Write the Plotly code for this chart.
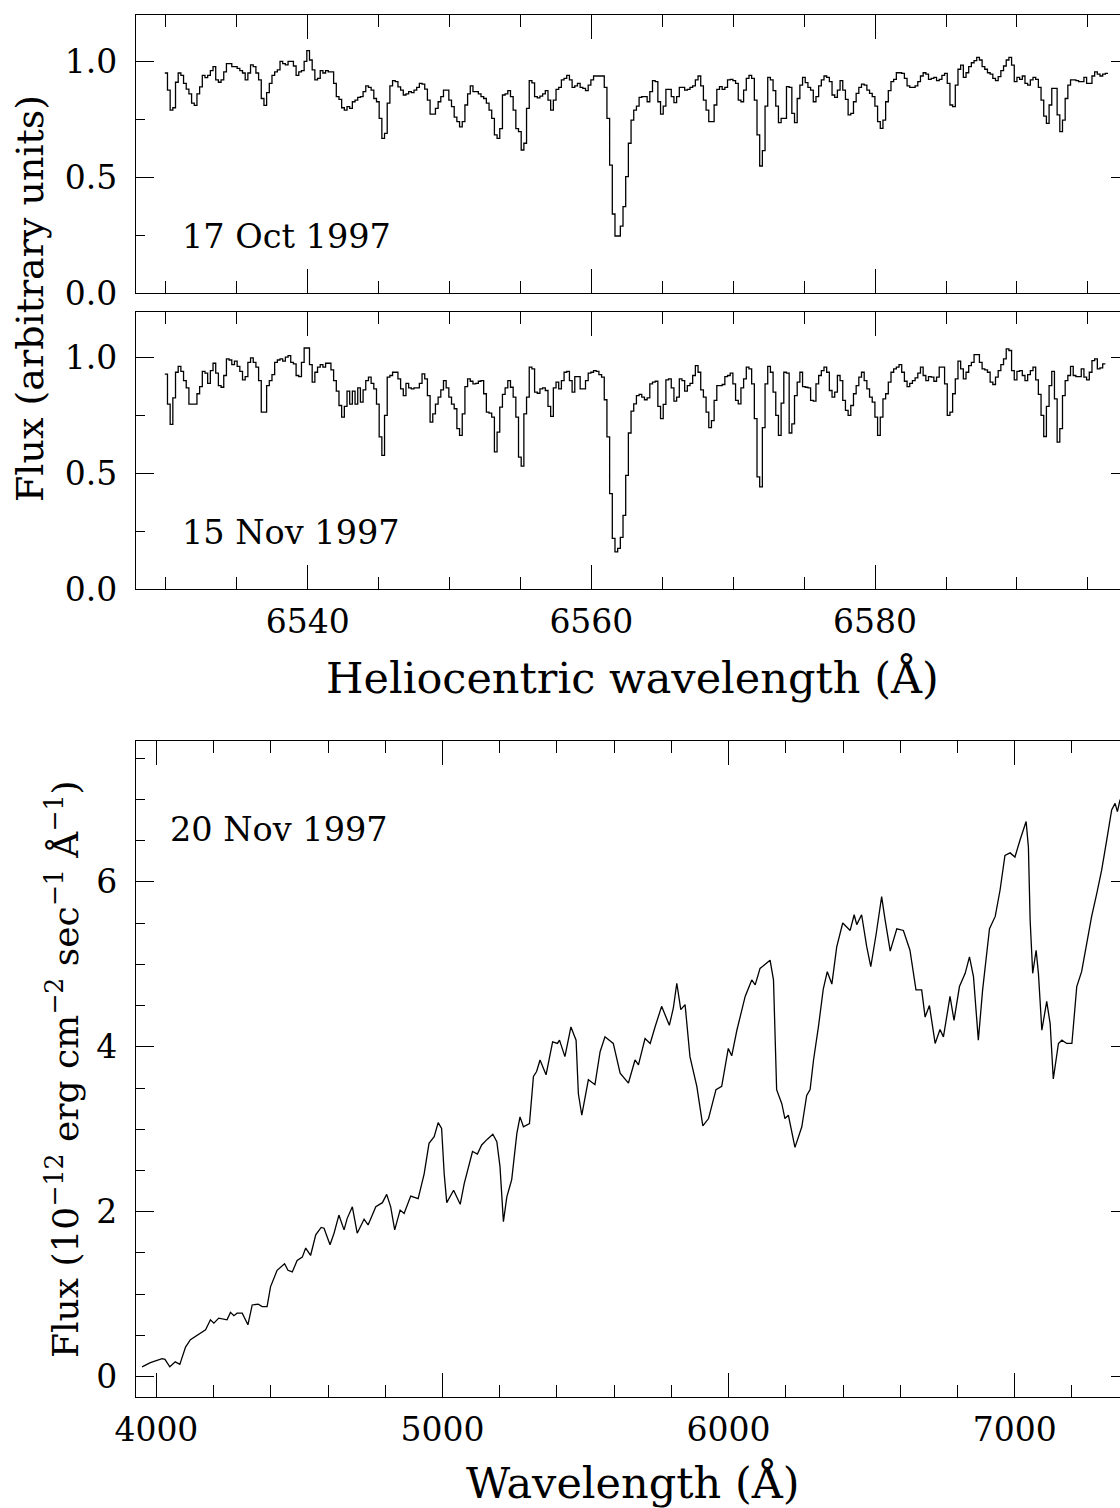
import plotly.graph_objects as go

# ---------------- data ----------------
# H-alpha region spectra (continuum-normalised flux per pixel bin)
HALPHA_START = 6529.93      # Angstrom, left edge of first bin
HALPHA_STEP = 0.1889        # Angstrom per bin

flux_17oct = [
    0.95, 0.876, 0.79, 0.80, 0.91, 0.95, 0.94, 0.905, 0.88, 0.86,
    0.82, 0.81, 0.86, 0.89, 0.94, 0.93, 0.94, 0.96, 0.977, 0.92,
    0.91, 0.92, 0.955, 0.99, 0.99, 0.977, 0.977, 0.97, 0.96, 0.95,
    0.92, 0.95, 0.985, 0.977, 0.95, 0.92, 0.84, 0.81, 0.865, 0.905,
    0.94, 0.955, 0.963, 1.0, 0.99, 0.985, 1.0, 1.0, 0.98, 0.94,
    0.955, 0.96, 1.0, 1.046, 1.006, 0.963, 0.92, 0.927, 0.96, 0.95,
    0.96, 0.955, 0.955, 0.905, 0.848, 0.836, 0.80, 0.79, 0.805, 0.797,
    0.826, 0.833, 0.845, 0.848, 0.87, 0.894, 0.888, 0.876, 0.84, 0.826,
    0.754, 0.668, 0.69, 0.82, 0.894, 0.917, 0.913, 0.89, 0.876, 0.855,
    0.86, 0.87, 0.865, 0.876, 0.888, 0.905, 0.902, 0.88, 0.833, 0.773,
    0.773, 0.797, 0.826, 0.848, 0.876, 0.876, 0.833, 0.805, 0.76, 0.74,
    0.718, 0.74, 0.812, 0.86, 0.894, 0.87, 0.87, 0.86, 0.848, 0.84,
    0.82, 0.79, 0.754, 0.683, 0.668, 0.71, 0.855, 0.86, 0.874, 0.848,
    0.79, 0.71, 0.697, 0.618, 0.647, 0.797, 0.917, 0.907, 0.848, 0.843,
    0.85, 0.86, 0.874, 0.833, 0.79, 0.833, 0.879, 0.888, 0.92,
    0.927, 0.94, 0.92, 0.888, 0.894, 0.905, 0.888, 0.884, 0.874, 0.898,
    0.92, 0.937, 0.937, 0.937, 0.937, 0.888, 0.754, 0.553, 0.342, 0.247,
    0.247, 0.29, 0.374, 0.503, 0.647, 0.747, 0.79, 0.807, 0.845, 0.848,
    0.848, 0.826, 0.87, 0.917, 0.913, 0.826, 0.773, 0.807, 0.879, 0.879,
    0.848, 0.822, 0.848, 0.888, 0.888, 0.876, 0.879, 0.888, 0.894, 0.92,
    0.937, 0.894, 0.833, 0.79, 0.74, 0.74, 0.812, 0.879, 0.891, 0.879,
    0.888, 0.92, 0.922, 0.917, 0.905, 0.833, 0.826, 0.876, 0.927, 0.94,
    0.927, 0.833, 0.683, 0.549, 0.615, 0.807, 0.931, 0.92, 0.874, 0.807,
    0.736, 0.754, 0.754, 0.891, 0.888, 0.776, 0.736, 0.84, 0.898, 0.931,
    0.908, 0.888, 0.876, 0.826, 0.848, 0.894, 0.92, 0.937, 0.931, 0.913,
    0.855, 0.845, 0.876, 0.917, 0.876, 0.836, 0.769, 0.776, 0.826, 0.862,
    0.888, 0.902, 0.898, 0.876, 0.862, 0.848, 0.807, 0.74, 0.711, 0.747,
    0.826, 0.874, 0.913, 0.922, 0.951, 0.951, 0.948, 0.927, 0.894, 0.888,
    0.888, 0.894, 0.913, 0.937, 0.951, 0.945, 0.922, 0.927, 0.931, 0.917,
    0.922, 0.94, 0.948, 0.905, 0.812, 0.805, 0.898, 0.966, 0.984, 0.931,
    0.951, 0.977, 0.994, 1.003, 1.017, 1.006, 0.977, 0.966, 0.951, 0.945,
    0.927, 0.917, 0.934, 0.96, 0.98, 1.006, 1.017, 0.984, 0.913, 0.931,
    0.922, 0.937, 0.905, 0.898, 0.92, 0.931, 0.922, 0.888, 0.833, 0.764,
    0.733, 0.812, 0.884, 0.884, 0.769, 0.697, 0.747, 0.84, 0.898, 0.92,
    0.92, 0.917, 0.913, 0.913, 0.931, 0.905, 0.905, 0.937, 0.955, 0.945,
    0.937, 0.945, 0.948,
]

flux_15nov = [
    0.93, 0.80, 0.712, 0.827, 0.938, 0.963, 0.942, 0.902, 0.87, 0.80,
    0.80, 0.80, 0.845, 0.876, 0.942, 0.934, 0.89, 0.945, 0.977, 0.934,
    0.88, 0.873, 0.924, 0.996, 0.991, 0.971, 0.986, 0.963, 0.942, 0.905,
    0.919, 0.981, 1.0, 0.981, 0.96, 0.902, 0.765, 0.765, 0.88, 0.902,
    0.928, 0.981, 0.991, 0.996, 0.986, 1.003, 1.01, 0.981, 0.974, 0.924,
    0.919, 0.981, 1.043, 1.043, 0.971, 0.895, 0.938, 0.96, 0.971, 0.96,
    0.977, 0.977, 0.948, 0.902, 0.856, 0.794, 0.744, 0.79, 0.856, 0.80,
    0.856, 0.80, 0.87, 0.809, 0.862, 0.902, 0.917, 0.89, 0.866, 0.80,
    0.658, 0.578, 0.751, 0.917, 0.924, 0.938, 0.938, 0.909, 0.866, 0.837,
    0.89, 0.87, 0.866, 0.87, 0.87, 0.89, 0.931, 0.909, 0.837, 0.722,
    0.758, 0.80, 0.83, 0.862, 0.902, 0.87, 0.83, 0.80, 0.78, 0.694,
    0.665, 0.758, 0.876, 0.909, 0.899, 0.888, 0.89, 0.899, 0.902, 0.845,
    0.765, 0.761, 0.744, 0.593, 0.679, 0.787, 0.842, 0.87, 0.902, 0.873,
    0.83, 0.744, 0.571, 0.532, 0.758, 0.83, 0.96, 0.953, 0.852, 0.847,
    0.866, 0.87, 0.859, 0.79, 0.747, 0.87, 0.895, 0.866, 0.902,
    0.938, 0.942, 0.902, 0.852, 0.919, 0.919, 0.866, 0.866, 0.902, 0.934,
    0.938, 0.945, 0.942, 0.928, 0.917, 0.819, 0.658, 0.413, 0.219, 0.161,
    0.176, 0.223, 0.319, 0.492, 0.675, 0.77, 0.801, 0.837, 0.842, 0.83,
    0.819, 0.827, 0.888, 0.895, 0.899, 0.79, 0.737, 0.799, 0.905, 0.909,
    0.87, 0.813, 0.83, 0.909, 0.902, 0.856, 0.88, 0.89, 0.924, 0.967,
    0.938, 0.862, 0.83, 0.765, 0.698, 0.729, 0.816, 0.88, 0.88, 0.885,
    0.919, 0.924, 0.934, 0.888, 0.816, 0.801, 0.87, 0.909, 0.96, 0.953,
    0.888, 0.737, 0.485, 0.442, 0.698, 0.888, 0.963, 0.938, 0.852, 0.751,
    0.665, 0.804, 0.938, 0.934, 0.675, 0.715, 0.837, 0.895, 0.938, 0.876,
    0.873, 0.87, 0.816, 0.813, 0.888, 0.924, 0.945, 0.96, 0.938, 0.859,
    0.83, 0.852, 0.924, 0.902, 0.816, 0.773, 0.751, 0.794, 0.845, 0.88,
    0.917, 0.938, 0.902, 0.866, 0.83, 0.809, 0.744, 0.665, 0.744, 0.823,
    0.845, 0.895, 0.938, 0.953, 0.96, 0.971, 0.938, 0.899, 0.876, 0.89,
    0.902, 0.914, 0.934, 0.96, 0.924, 0.902, 0.919, 0.917, 0.899, 0.917,
    0.96, 0.96, 0.888, 0.751, 0.765, 0.845, 0.909, 0.986, 0.953, 0.909,
    0.938, 0.967, 0.981, 1.014, 1.014, 0.981, 0.953, 0.948, 0.938, 0.895,
    0.885, 0.917, 0.945, 0.971, 0.996, 1.039, 1.032, 0.945, 0.905, 0.942,
    0.945, 0.924, 0.902, 0.928, 0.945, 0.96, 0.905, 0.842, 0.751, 0.66,
    0.79, 0.88, 0.942, 0.823, 0.636, 0.694, 0.837, 0.902, 0.924, 0.963,
    0.924, 0.919, 0.919, 0.953, 0.917, 0.905, 0.938, 0.988, 0.996, 0.953,
    0.957, 0.974,
]

# Low-resolution flux-calibrated spectrum, 20 Nov 1997 (1e-12 erg/cm2/s/A)
wave_20nov = [
    3950, 3979, 4020, 4030, 4047, 4066, 4082, 4102, 4119, 4142,
    4172, 4189, 4201, 4218, 4247, 4259, 4271, 4282, 4300, 4320,
    4335, 4356, 4370, 4387, 4399, 4422, 4448, 4460, 4475, 4492,
    4510, 4522, 4539, 4557, 4576, 4586, 4607, 4621, 4638, 4656,
    4667, 4685, 4702, 4726, 4740, 4767, 4790, 4805, 4819, 4833,
    4852, 4866, 4889, 4915, 4936, 4953, 4971, 4985, 4997, 5006,
    5015, 5039, 5062, 5076, 5105, 5122, 5137, 5157, 5176, 5190,
    5201, 5213, 5225, 5242, 5260, 5271, 5283, 5304, 5318, 5329,
    5341, 5362, 5385, 5402, 5409, 5428, 5449, 5467, 5475, 5487,
    5510, 5533, 5551, 5568, 5597, 5621, 5650, 5673, 5685, 5708,
    5726, 5743, 5766, 5793, 5807, 5819, 5833, 5848, 5865, 5889,
    5910, 5930, 5956, 5976, 5999, 6011, 6029, 6058, 6081, 6093,
    6110, 6128, 6145, 6157, 6168, 6186, 6197, 6209, 6232, 6256,
    6273, 6285, 6297, 6314, 6331, 6345, 6361, 6378, 6399, 6425,
    6439, 6448, 6465, 6483, 6497, 6516, 6535, 6547, 6565, 6588,
    6611, 6634, 6655, 6675, 6687, 6702, 6722, 6739, 6751, 6774,
    6788, 6807, 6827, 6842, 6856, 6873, 6888, 6912, 6932, 6949,
    6966, 6984, 7001, 7019, 7040, 7048, 7054, 7063, 7075, 7083,
    7095, 7112, 7124, 7135, 7153, 7165, 7182, 7200, 7217, 7234,
    7252, 7269, 7287, 7304, 7322, 7339, 7351, 7359, 7368, 7382,
    7396,
]
flux_20nov = [
    0.12, 0.17, 0.22, 0.21, 0.12, 0.18, 0.15, 0.36, 0.45, 0.50,
    0.57, 0.69, 0.65, 0.71, 0.69, 0.78, 0.74, 0.77, 0.77, 0.63,
    0.87, 0.88, 0.85, 0.85, 1.09, 1.29, 1.37, 1.29, 1.27, 1.41,
    1.45, 1.56, 1.47, 1.72, 1.81, 1.80, 1.60, 1.74, 1.96, 1.78,
    1.92, 2.06, 1.74, 1.91, 1.84, 2.06, 2.11, 2.21, 2.06, 1.78,
    2.02, 1.98, 2.19, 2.16, 2.46, 2.83, 2.91, 3.08, 3.01, 2.46,
    2.11, 2.26, 2.09, 2.34, 2.73, 2.70, 2.81, 2.88, 2.94, 2.85,
    2.55, 1.88, 2.18, 2.39, 2.95, 3.15, 3.03, 3.07, 3.64, 3.70,
    3.84, 3.66, 4.06, 4.04, 4.08, 3.88, 4.24, 4.08, 3.43, 3.17,
    3.60, 3.54, 3.94, 4.12, 4.04, 3.68, 3.56, 3.84, 3.78, 4.10,
    4.04, 4.24, 4.49, 4.26, 4.47, 4.77, 4.45, 4.51, 3.88, 3.52,
    3.04, 3.13, 3.48, 3.52, 3.98, 3.89, 4.20, 4.61, 4.81, 4.75,
    4.95, 5.00, 5.05, 4.81, 3.48, 3.31, 3.13, 3.17, 2.78, 3.03,
    3.41, 3.48, 3.84, 4.24, 4.70, 4.91, 4.76, 5.21, 5.50, 5.41,
    5.60, 5.48, 5.60, 5.21, 4.97, 5.37, 5.82, 5.54, 5.16, 5.43,
    5.41, 5.17, 4.69, 4.69, 4.36, 4.50, 4.04, 4.21, 4.12, 4.61,
    4.32, 4.73, 4.89, 5.09, 4.85, 4.08, 4.69, 5.43, 5.58, 5.90,
    6.32, 6.35, 6.30, 6.51, 6.73, 6.42, 5.54, 4.89, 5.17, 4.89,
    4.20, 4.55, 4.28, 3.61, 4.04, 4.08, 4.04, 4.04, 4.73, 4.91,
    5.25, 5.58, 5.86, 6.14, 6.51, 6.87, 6.95, 6.85, 6.99, 7.02,
    7.05,
]

date_labels = ["17 Oct 1997", "15 Nov 1997", "20 Nov 1997"]
top_ytitle = "Flux (arbitrary units)"
top_xtitle = "Heliocentric wavelength (Å)"
bot_ytitle = "Flux (10<sup>−12</sup> erg cm<sup>−2</sup> sec<sup>−1</sup> Å<sup>−1</sup>)"
bot_xtitle = "Wavelength (Å)"

# ---------------- layout helpers ----------------
W, H = 1140, 1508
FONT = "DejaVu Serif"


def px(xp):
    return xp / W


def py(yp):
    return 1 - yp / H


def step_xy(vals):
    xs = [HALPHA_START + HALPHA_STEP * i for i in range(len(vals) + 1)]
    ys = list(vals) + [vals[-1]]
    return xs, ys


fig = go.Figure()
line = dict(color="black", width=1.3)

x1, y1 = step_xy(flux_17oct)
fig.add_trace(go.Scatter(x=x1, y=y1, mode="lines", line=dict(shape="hv", **line),
                         xaxis="x", yaxis="y", showlegend=False, hoverinfo="skip"))
x2, y2 = step_xy(flux_15nov)
fig.add_trace(go.Scatter(x=x2, y=y2, mode="lines", line=dict(shape="hv", **line),
                         xaxis="x2", yaxis="y2", showlegend=False, hoverinfo="skip"))
fig.add_trace(go.Scatter(x=wave_20nov, y=flux_20nov, mode="lines", line=line,
                         xaxis="x3", yaxis="y3", showlegend=False, hoverinfo="skip"))

tickfont = dict(family=FONT, size=33, color="black")
XDOM = [px(136), px(1129)]


def xax(rng, dtick, mdtick, labels, anchor):
    return dict(domain=XDOM, range=rng, anchor=anchor, showline=True, linecolor="black",
                linewidth=1.4, mirror="allticks", ticks="inside", ticklen=24, tickwidth=1.2,
                tickcolor="black", tick0=0, dtick=dtick, showgrid=False, zeroline=False,
                showticklabels=labels, tickfont=tickfont, ticklabelstandoff=3,
                automargin=False,
                minor=dict(ticks="inside", ticklen=12, dtick=mdtick, tick0=0,
                           tickcolor="black", tickwidth=1.2, showgrid=False))


def yax(dom, rng, dtick, mdtick, fmt, anchor):
    return dict(domain=dom, range=rng, anchor=anchor, showline=True, linecolor="black",
                linewidth=1.4, mirror="allticks", ticks="inside", ticklen=18, tickwidth=1.2,
                tickcolor="black", tick0=0, dtick=dtick, showgrid=False, zeroline=False,
                tickformat=fmt, tickfont=tickfont, ticklabelstandoff=11, automargin=False,
                minor=dict(ticks="inside", ticklen=9, dtick=mdtick, tick0=0,
                           tickcolor="black", tickwidth=1.2, showgrid=False))


TOPX = [6527.9, 6597.9]
fig.update_layout(
    width=W, height=H,
    margin=dict(l=0, r=0, t=0, b=0, pad=0),
    paper_bgcolor="white", plot_bgcolor="white",
    xaxis=xax(TOPX, 20, 5, False, "y"),
    yaxis=yax([py(293.3), py(15)], [0, 1.2], 0.5, 0.25, ".1f", "x"),
    xaxis2=xax(TOPX, 20, 5, True, "y2"),
    yaxis2=yax([py(589), py(311.7)], [0, 1.2], 0.5, 0.25, ".1f", "x2"),
    xaxis3=xax([3928.8, 7399.6], 1000, 200, True, "y3"),
    yaxis3=yax([py(1396.7), py(740.7)], [-0.242, 7.71], 2, 0.5, "d", "x3"),
)

ann = []


def add_text(text, xp, yp, size, xanchor="center", angle=0):
    ann.append(dict(text=text, x=px(xp), y=py(yp), xref="paper", yref="paper",
                    xanchor=xanchor, yanchor="middle", showarrow=False, textangle=angle,
                    font=dict(family=FONT, size=size, color="black")))


add_text(date_labels[0], 180, 236.3, 33.5, "left")
add_text(date_labels[1], 180, 532.3, 33.5, "left")
add_text(date_labels[2], 168, 829, 33.5, "left")
add_text(top_ytitle, 30.5, 298.5, 38, angle=-90)
add_text(top_xtitle, 632.5, 678, 43)
add_text(bot_ytitle, 63, 1069, 36, angle=-90)
add_text(bot_xtitle, 632.5, 1483, 43)
fig.update_layout(annotations=ann)

fig.write_html(
    "out.html",
    config={"displayModeBar": False, "responsive": False},
    post_script="document.documentElement.style.overflow='hidden';"
                "document.body.style.margin='0';document.body.style.overflow='hidden';",
)
